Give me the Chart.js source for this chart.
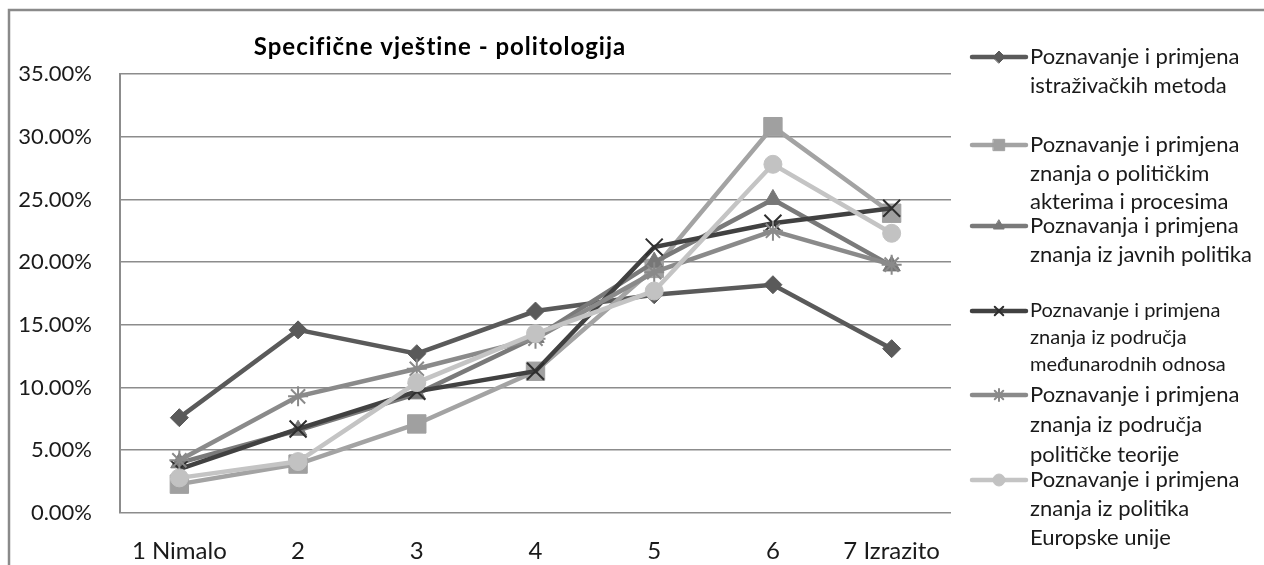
<!DOCTYPE html>
<html>
<head>
<meta charset="utf-8">
<title>Specifične vještine - politologija</title>
<script src="https://cdn.jsdelivr.net/npm/chart.js@4/dist/chart.umd.min.js"></script>
<style>
    html, body {
        margin: 0;
        padding: 0;
        background: #ffffff;
    }
    .chart-box {
        position: relative;
        width: 1264px;
        height: 565px;
    }
</style>
</head>
<body>

<div class="chart-box">
    <canvas id="skillsChart" width="1264" height="565"></canvas>
</div>

<script>

const chartTitle =
    "Specifične vještine - politologija";

const categories = [
    "1 Nimalo",
    "2",
    "3",
    "4",
    "5",
    "6",
    "7 Izrazito"
];

// values in percent
const metodeValues = [7.6, 14.6, 12.7, 16.1, 17.4, 18.2, 13.1];
const akteriValues = [2.3, 3.9, 7.1, 11.3, 19.5, 30.8, 23.9];
const javnePolitikeValues = [4.0, 6.6, 9.5, 14.0, 20.0, 25.0, 19.7];
const medjunarodniValues = [3.5, 6.7, 9.7, 11.3, 21.2, 23.1, 24.3];
const teorijaValues = [4.2, 9.3, 11.5, 13.9, 19.2, 22.5, 19.8];
const europskaUnijaValues = [2.8, 4.1, 10.4, 14.3, 17.7, 27.8, 22.3];

const seriesLabels = [
    ["Poznavanje i primjena", "istraživačkih metoda"],
    ["Poznavanje i primjena", "znanja o političkim", "akterima i procesima"],
    ["Poznavanja i primjena", "znanja iz javnih politika"],
    ["Poznavanje i primjena", "znanja iz područja", "međunarodnih odnosa"],
    ["Poznavanje i primjena", "znanja iz područja", "političke teorije"],
    ["Poznavanje i primjena", "znanja iz politika", "Europske unije"]
];

const yMin = 0;
const yMax = 35;
const yStep = 5;

document.addEventListener("DOMContentLoaded", () => {

    const fontFamily =
        "Lato, 'Open Sans', sans-serif";

    Chart.defaults.font.family = fontFamily;
    Chart.defaults.font.size = 22;
    Chart.defaults.color = "#1a1a1a";

    function makeSeries(index, values, style) {

        return {
            label: seriesLabels[index].join(" "),
            data: values,
            borderColor: style.line,
            backgroundColor: style.marker,
            pointBackgroundColor: style.marker,
            pointBorderColor: style.marker,
            pointStyle: style.point,
            pointRadius: style.radius,
            pointBorderWidth: style.pointBorder || 1,
            borderWidth: 4.5,
            tension: 0,
            fill: false,
            // later series sit on top, like the original
            order: seriesLabels.length - index,
            legendRadius: style.legendRadius
        };

    }

    const datasets = [
        makeSeries(0, metodeValues, {
            line: "#5a5a5a", marker: "#5a5a5a",
            point: "rectRot", radius: 9, legendRadius: 6
        }),
        makeSeries(1, akteriValues, {
            line: "#a3a3a3", marker: "#a0a0a0",
            point: "rect", radius: 13, legendRadius: 8
        }),
        makeSeries(2, javnePolitikeValues, {
            line: "#7a7a7a", marker: "#777777",
            point: "triangle", radius: 10, legendRadius: 6
        }),
        makeSeries(3, medjunarodniValues, {
            line: "#414141", marker: "#2e2e2e",
            point: "crossRot", radius: 12, pointBorder: 2, legendRadius: 6
        }),
        makeSeries(4, teorijaValues, {
            line: "#8a8a8a", marker: "#8a8a8a",
            point: "star", radius: 10, pointBorder: 2, legendRadius: 6
        }),
        makeSeries(5, europskaUnijaValues, {
            line: "#c4c4c4", marker: "#c2c2c2",
            point: "circle", radius: 9, legendRadius: 6
        })
    ];

    // frame, title and the wrapped legend on the right
    const decorations = {

        id: "decorations",

        beforeDraw(chart) {

            const ctx = chart.ctx;

            ctx.save();
            ctx.strokeStyle = "#8a8a8a";
            ctx.lineWidth = 2.5;
            ctx.beginPath();
            ctx.moveTo(9, chart.height);
            ctx.lineTo(9, 10);
            ctx.lineTo(chart.width, 10);
            ctx.stroke();
            ctx.restore();

        },

        afterDraw(chart) {

            const ctx = chart.ctx;

            ctx.save();

            ctx.fillStyle = "#000000";
            ctx.font = "bold 24px " + fontFamily;
            ctx.letterSpacing = "1px";
            ctx.textAlign = "center";
            ctx.textBaseline = "middle";
            ctx.fillText(chartTitle, 440, 47);
            ctx.letterSpacing = "0px";

            const entryTops = [57, 145, 226, 311, 395, 480];
            const lineGaps = [29, 28.5, 29, 27, 30, 29];
            const fontSizes = [22, 22, 22, 20, 22, 22];

            chart.data.datasets.forEach((ds, i) => {

                const y = entryTops[i];

                ctx.strokeStyle = ds.borderColor;
                ctx.lineWidth = 4.5;
                ctx.lineCap = "round";
                ctx.beginPath();
                ctx.moveTo(972, y);
                ctx.lineTo(1026, y);
                ctx.stroke();

                ctx.fillStyle = ds.pointBackgroundColor;
                ctx.strokeStyle = ds.pointBorderColor;
                ctx.lineWidth = ds.pointBorderWidth;
                Chart.helpers.drawPoint(
                    ctx,
                    {
                        pointStyle: ds.pointStyle,
                        radius: ds.legendRadius,
                        rotation: 0,
                        borderWidth: ds.pointBorderWidth
                    },
                    999,
                    y
                );

                ctx.fillStyle = "#1a1a1a";
                ctx.font = fontSizes[i] + "px " + fontFamily;
                ctx.textAlign = "left";
                ctx.textBaseline = "middle";

                seriesLabels[i].forEach((line, k) => {
                    ctx.fillText(line, 1030, y + k * lineGaps[i]);
                });

            });

            ctx.restore();

        }

    };

    const canvas =
        document.getElementById("skillsChart");

    new Chart(canvas, {

        type: "line",

        data: {
            labels: categories,
            datasets: datasets
        },

        options: {

            responsive: false,
            animation: false,
            events: [],

            layout: {
                padding: {
                    top: 74,
                    right: 313,
                    bottom: 0,
                    left: 0
                }
            },

            plugins: {
                legend: { display: false },
                title: { display: false },
                tooltip: { enabled: false }
            },

            scales: {

                x: {
                    offset: true,
                    grid: {
                        display: false,
                        drawTicks: false
                    },
                    border: { display: false },
                    ticks: {
                        padding: 24,
                        maxRotation: 0,
                        autoSkip: false,
                        font: { size: 24 }
                    },
                    afterFit(scale) {
                        scale.height = 52;
                    }
                },

                y: {
                    min: yMin,
                    max: yMax,
                    grid: {
                        color: "#8c8c8c",
                        lineWidth: 1.6,
                        drawTicks: false
                    },
                    border: {
                        display: true,
                        color: "#8c8c8c",
                        width: 2
                    },
                    ticks: {
                        stepSize: yStep,
                        padding: 28,
                        font: { size: 22 },
                        callback: (v) => v.toFixed(2) + "%"
                    },
                    afterFit(scale) {
                        scale.width = 120;
                    }
                }

            }

        },

        plugins: [decorations]

    });

});

</script>
</body>
</html>
